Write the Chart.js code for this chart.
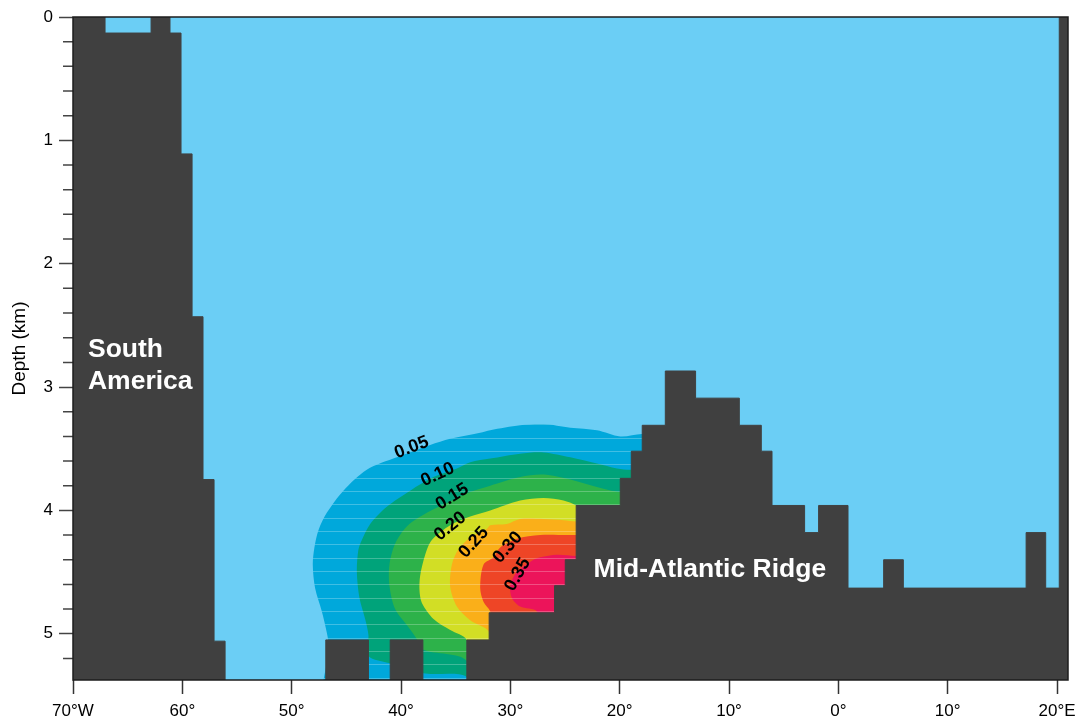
<!DOCTYPE html>
<html>
<head>
<meta charset="utf-8">
<script src="https://cdn.jsdelivr.net/npm/chart.js@4/dist/chart.umd.min.js"></script>
<style>
  html, body { margin: 0; padding: 0; background: #fff; }
  #wrap { width: 1077px; height: 719px; position: relative; }
</style>
</head>
<body>
<div id="wrap"><canvas id="section"></canvas></div>
<script>
// axis ranges and ticks
const LON_MIN = -70, LON_MAX = 21;
const DEPTH_MAX = 5.375;
const lonTicks = [-70, -60, -50, -40, -30, -20, -10, 0, 10, 20];
const lonTickLabels = ['70°W', '60°', '50°', '40°', '30°', '20°', '10°', '0°', '10°', '20°E'];
const depthTicks = [0, 1, 2, 3, 4, 5];
const depthMinorTicks = [0.2, 0.4, 0.6, 0.8, 1.2, 1.4, 1.6, 1.8, 2.2, 2.4, 2.6, 2.8,
  3.2, 3.4, 3.6, 3.8, 4.2, 4.4, 4.6, 4.8, 5.2];

// sea floor: depth (km) holding from each longitude to the next one
const seafloorLon = [-70, -67.07, -62.86, -61.13, -60.12, -59.11, -58.11, -57.1, -56.09,
  -46.88, -42.98, -40.99, -38.0, -33.98, -31.94, -25.96, -24.98, -23.98, -19.95, -18.94,
  -17.94, -15.83, -13.06, -9.06, -7.05, -6.07, -3.09, -1.81, 0.88, 4.14, 5.94, 17.17,
  18.96, 20.2, 21];
const seafloorDepth = [0, 0.13, 0, 0.13, 1.11, 2.43, 3.75, 5.06, 5.6,
  5.05, 5.6, 5.05, 5.6, 5.05, 4.83, 4.61, 4.4, 3.96, 3.74, 3.52,
  3.31, 2.87, 3.09, 3.31, 3.52, 3.96, 4.18, 3.96, 4.63, 4.4, 4.63, 4.18,
  4.63, 0, 0];

// contour levels, outlines as [lon, depth]; the parts running under the ridge are hidden by it
const contourLevels = ['0.05', '0.10', '0.15', '0.20', '0.25', '0.30', '0.35'];
const outline05 = [[-10, 3.38], [-17.96, 3.38], [-19.95, 3.40], [-22.08, 3.35], [-24.52, 3.33],
  [-26.97, 3.30], [-29.10, 3.31], [-31.84, 3.35], [-32.76, 3.37], [-35.50, 3.42], [-37.33, 3.47],
  [-40.38, 3.57], [-43.13, 3.67], [-45.27, 3.84], [-46.79, 4.02], [-47.55, 4.16], [-47.92, 4.30],
  [-48.07, 4.44], [-47.86, 4.63], [-47.24, 4.82], [-46.79, 4.99], [-46.6, 5.1], [-46.6, 5.6],
  [-10, 5.6]];
const outline10 = [[-10, 3.67], [-19.03, 3.67], [-20.25, 3.66], [-22.08, 3.62], [-24.52, 3.57],
  [-26.97, 3.53], [-29.10, 3.54], [-31.84, 3.58], [-33.67, 3.61], [-34.89, 3.66], [-37.03, 3.73],
  [-39.16, 3.84], [-41.30, 3.97], [-42.82, 4.11], [-43.58, 4.24], [-43.90, 4.32], [-44.04, 4.50],
  [-43.80, 4.71], [-43.28, 4.88], [-42.98, 5.01], [-42.98, 5.18], [-40.99, 5.24], [-37.98, 5.32],
  [-33.98, 5.35], [-33.5, 5.6], [-10, 5.6]];
const outline15 = [[-10, 3.85], [-19.95, 3.85], [-22.08, 3.81], [-24.52, 3.75], [-26.97, 3.71],
  [-29.10, 3.73], [-31.84, 3.80], [-33.98, 3.86], [-35.81, 3.94], [-37.64, 4.02], [-39.47, 4.13],
  [-40.54, 4.27], [-41.06, 4.44], [-41.06, 4.61], [-40.54, 4.80], [-39.47, 4.93], [-38.5, 5.05],
  [-37.98, 5.13], [-33.98, 5.22], [-33.5, 5.6], [-10, 5.6]];
const outline20 = [[-23.5, 4.0], [-23.98, 3.96], [-25.14, 3.92], [-26.97, 3.90], [-29.10, 3.92],
  [-31.84, 4.00], [-33.67, 4.05], [-35.50, 4.12], [-37.18, 4.24], [-37.79, 4.36], [-38.25, 4.53],
  [-38.31, 4.65], [-38.09, 4.75], [-37.03, 4.88], [-35.50, 4.97], [-33.98, 5.05], [-33.5, 5.3],
  [-10, 5.3], [-10, 4.2]];
const outline25 = [[-10, 4.09], [-23.98, 4.09], [-25.14, 4.08], [-26.97, 4.07], [-29.10, 4.07],
  [-30.32, 4.11], [-31.84, 4.12], [-32.15, 4.15], [-33.67, 4.22], [-34.77, 4.32], [-35.35, 4.44],
  [-35.50, 4.62], [-34.89, 4.78], [-33.67, 4.89], [-31.99, 4.98], [-31.5, 5.2], [-10, 5.2]];
const outline30 = [[-10, 4.2], [-23.98, 4.20], [-24.83, 4.20], [-27.27, 4.20], [-29.40, 4.23],
  [-30.93, 4.30], [-31.54, 4.38], [-32.46, 4.44], [-32.76, 4.63], [-32.46, 4.74], [-31.84, 4.82],
  [-31.5, 5.0], [-10, 5.0]];
const outline35 = [[-10, 4.37], [-23.98, 4.37], [-25.74, 4.36], [-27.27, 4.38], [-27.88, 4.40],
  [-29.40, 4.50], [-30.01, 4.61], [-29.86, 4.71], [-29.10, 4.78], [-27.57, 4.82], [-27.3, 5.0],
  [-10, 5.0]];
const outlines = [outline05, outline10, outline15, outline20, outline25, outline30, outline35];

const WATER = '#6bcef5';
const LAND = '#404040';
const levelColors = ['#00a8db', '#00a37a', '#2db24a', '#d2de25', '#faaf19', '#ee4526', '#ec145a'];
const FONT = '"Liberation Sans", Arial, sans-serif';

// where the level numbers sit along their contours
const contourLabelSpots = [
  { lon: -39.03, depth: 3.49, angle: -21 },
  { lon: -36.65, depth: 3.71, angle: -25 },
  { lon: -35.32, depth: 3.89, angle: -32 },
  { lon: -35.50, depth: 4.13, angle: -39 },
  { lon: -33.35, depth: 4.26, angle: -48 },
  { lon: -30.24, depth: 4.30, angle: -49 },
  { lon: -29.33, depth: 4.52, angle: -61 }
];
const regionNames = [
  { lines: ['South', 'America'], lon: -68.63, depth: 2.756 },
  { lines: ['Mid-Atlantic Ridge'], lon: -22.39, depth: 4.544 }
];

const canvas = document.getElementById('section');
const mainCtx = canvas.getContext('2d');

// fill colour with the faint horizontal banding of the gridded field
function banded(color) {
  const c = document.createElement('canvas');
  c.width = 8; c.height = 40;
  const g = c.getContext('2d');
  g.fillStyle = color;
  g.fillRect(0, 0, 8, 40);
  g.fillStyle = 'rgba(255,255,255,0.25)';
  [11, 24, 38].forEach(r => g.fillRect(0, r, 8, 1));
  return mainCtx.createPattern(c, 'repeat');
}

const contourSets = outlines.map((pts, i) => ({
  label: contourLevels[i],
  data: pts.map(p => ({ x: p[0], y: p[1] })),
  showLine: true,
  fill: 'shape',
  backgroundColor: banded(levelColors[i]),
  borderWidth: 0,
  pointRadius: 0,
  tension: 0.3,
  order: 10 - i
}));

const landSet = {
  label: 'bathymetry',
  data: seafloorLon.map((lon, i) => ({ x: lon, y: seafloorDepth[i] })),
  showLine: true,
  stepped: true,
  fill: { value: DEPTH_MAX },
  backgroundColor: LAND,
  borderColor: LAND,
  borderWidth: 1,
  pointRadius: 0,
  order: 0
};

const sectionDecor = {
  id: 'sectionDecor',
  beforeDraw(chart) {
    const { ctx, chartArea: a } = chart;
    ctx.save();
    ctx.fillStyle = WATER;
    ctx.fillRect(a.left, a.top, a.right - a.left, a.bottom - a.top);
    ctx.restore();
  },
  afterDraw(chart) {
    const { ctx, chartArea: a, scales: { x, y } } = chart;
    ctx.save();
    // minor depth ticks
    ctx.strokeStyle = '#444';
    ctx.lineWidth = 1.5;
    ctx.beginPath();
    depthMinorTicks.forEach(d => {
      const py = y.getPixelForValue(d);
      ctx.moveTo(a.left - 10, py);
      ctx.lineTo(a.left, py);
    });
    ctx.stroke();
    // frame
    ctx.strokeStyle = '#1c1c1c';
    ctx.lineWidth = 1.5;
    ctx.strokeRect(a.left, a.top, a.right - a.left, a.bottom - a.top);

    // contour values
    ctx.fillStyle = '#000';
    ctx.font = 'bold 18px ' + FONT;
    ctx.textAlign = 'center';
    ctx.textBaseline = 'middle';
    contourLevels.forEach((lvl, i) => {
      const s = contourLabelSpots[i];
      ctx.save();
      ctx.translate(x.getPixelForValue(s.lon), y.getPixelForValue(s.depth));
      ctx.rotate(s.angle * Math.PI / 180);
      ctx.fillText(lvl, 0, 0);
      ctx.restore();
    });

    // land names
    ctx.fillStyle = '#fff';
    ctx.font = 'bold 26.5px ' + FONT;
    ctx.textAlign = 'left';
    ctx.textBaseline = 'alphabetic';
    regionNames.forEach(r => {
      const px = x.getPixelForValue(r.lon);
      const py = y.getPixelForValue(r.depth);
      r.lines.forEach((t, k) => ctx.fillText(t, px, py + k * 32));
    });
    ctx.restore();
  }
};

new Chart(canvas, {
  type: 'scatter',
  data: { datasets: [landSet, ...contourSets] },
  options: {
    responsive: true,
    maintainAspectRatio: false,
    animation: false,
    events: [],
    layout: { padding: { top: 17, right: 9, left: 0, bottom: 0 } },
    plugins: { legend: { display: false }, tooltip: { enabled: false } },
    scales: {
      x: {
        type: 'linear',
        min: LON_MIN,
        max: LON_MAX,
        border: { display: false },
        grid: { drawOnChartArea: false, tickLength: 14, tickColor: '#333', tickWidth: 1.5 },
        ticks: {
          color: '#000',
          font: { family: FONT, size: 17 },
          padding: 7,
          maxRotation: 0,
          callback: v => lonTickLabels[lonTicks.indexOf(v)]
        },
        afterBuildTicks: s => { s.ticks = lonTicks.map(v => ({ value: v })); },
        afterFit: s => { s.height = 39; s.paddingLeft = 0; s.paddingRight = 0; }
      },
      y: {
        type: 'linear',
        reverse: true,
        min: 0,
        max: DEPTH_MAX,
        border: { display: false },
        grid: { drawOnChartArea: false, tickLength: 14, tickColor: '#444', tickWidth: 1.5 },
        ticks: {
          color: '#000',
          font: { family: FONT, size: 17 },
          padding: 6
        },
        title: {
          display: true,
          text: 'Depth (km)',
          color: '#000',
          font: { family: FONT, size: 19 },
          padding: { top: 8, bottom: 0 }
        },
        afterBuildTicks: s => { s.ticks = depthTicks.map(v => ({ value: v })); },
        afterFit: s => { s.width = 73; s.paddingTop = 0; s.paddingBottom = 0; }
      }
    }
  },
  plugins: [sectionDecor]
});
</script>
</body>
</html>
